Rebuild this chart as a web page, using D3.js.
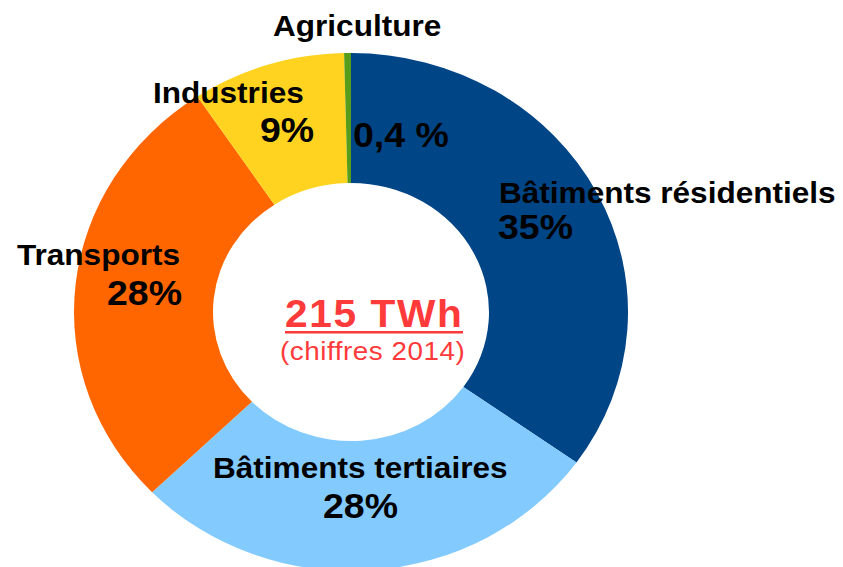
<!DOCTYPE html>
<html>
<head>
<meta charset="utf-8">
<script src="https://cdn.jsdelivr.net/npm/d3@7"></script>
<style>
  html, body { margin: 0; padding: 0; background: #fff; }
  svg { display: block; }
  text { font-family: "Liberation Sans", Arial, sans-serif; fill: #000; }
</style>
</head>
<body>
<svg id="myGraph" width="843" height="567"></svg>
<script>
var svgWidth = 843;
var svgHeight = 567;

// données
var sectors = ['Bâtiments résidentiels', 'Bâtiments tertiaires', 'Transports', 'Industries', 'Agriculture'];
var shares = [35, 28, 28, 9, 0.4];
var shareLabels = ['35%', '28%', '28%', '9%', '0,4 %'];
var colors = ['#004586', '#83caff', '#ff6600', '#ffd320', '#579d1c'];
var totalLabel = '215 TWh';
var subLabel = '(chiffres 2014)';

// placement des étiquettes (nom puis pourcentage), point gauche + ligne de base
var namePos = [[499, 203], [213, 478], [17, 265], [153, 103], [273, 36]];
var pctPos = [[498, 239], [323, 518], [107, 305], [260, 142], [353, 147]];

var cx = 351, cy = 312;
var stretchY = 0.935;
var stretchX = 1.07;

var svg = d3.select('#myGraph');

var pie = d3.pie().sort(null).value(function(d) { return d; });
var arc = d3.arc().innerRadius(138).outerRadius(277);

svg.append('g')
  .attr('transform', 'translate(' + cx + ',' + cy + ') scale(1,' + stretchY + ')')
  .selectAll('path')
  .data(pie(shares))
  .enter()
  .append('path')
  .attr('d', arc)
  .style('fill', function(d, i) { return colors[i]; });

function label(x, y, txt, size, weight, spacing, fill) {
  return svg.append('text')
    .attr('transform', 'translate(' + x + ',' + y + ') scale(' + stretchX + ',1)')
    .style('font-size', size + 'px')
    .style('font-weight', weight)
    .style('letter-spacing', spacing + 'px')
    .style('fill', fill || '#000')
    .text(txt);
}

sectors.forEach(function(s, i) {
  label(namePos[i][0], namePos[i][1], s, 29.5, 'bold', 0);
  label(pctPos[i][0], pctPos[i][1], shareLabels[i], 35, 'bold', 0);
});

// centre
var red = '#ff3a3a';
label(285, 327, totalLabel, 38, 'bold', 1.5, red);
svg.append('rect')
  .attr('x', 285).attr('y', 331)
  .attr('width', 178).attr('height', 2.5)
  .style('fill', red);
label(280, 360, subLabel, 26, 'normal', 0.5, red);
</script>
</body>
</html>
